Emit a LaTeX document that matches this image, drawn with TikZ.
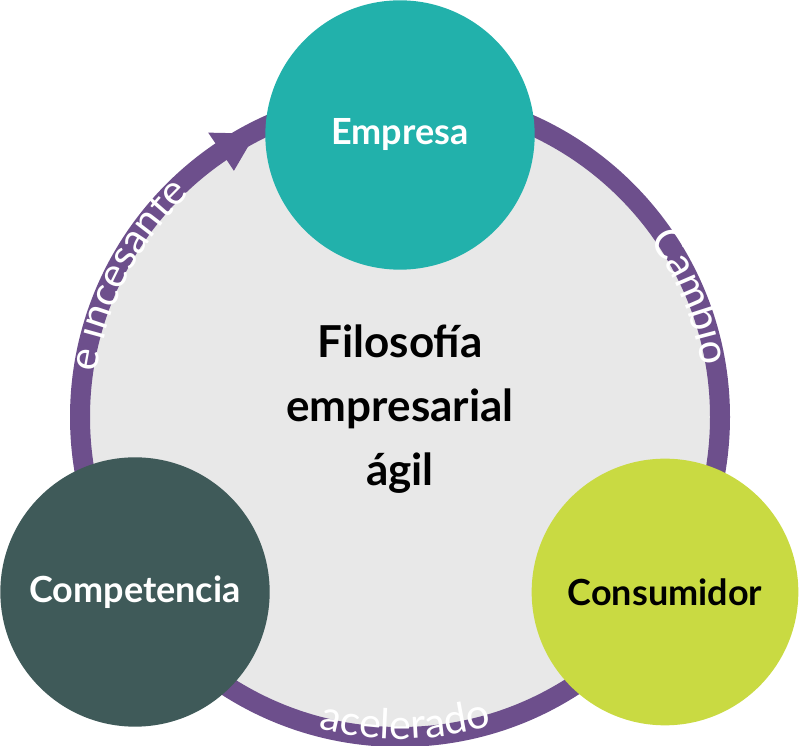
\documentclass[tikz,border=0pt]{standalone}
\usepackage{fontspec}
\setmainfont{Lato}
\usetikzlibrary{decorations.text,calc}
\definecolor{ring}{HTML}{6D4F8C}
\definecolor{bg}{HTML}{E8E8E8}
\definecolor{teal}{HTML}{22B1AB}
\definecolor{dk}{HTML}{3F5A59}
\definecolor{lime}{HTML}{C9DA42}
\begin{document}
\begin{tikzpicture}[x=0.75pt,y=0.75pt,
  bub/.style={circle,minimum size=202pt,inner sep=0,font=\fontsize{27}{30}\selectfont\bfseries},
  rt/.style={decorate,decoration={text along path,text align=center,text color=white,
     text={|\fontsize{31}{34}\selectfont|#1}}}]
\useasboundingbox (0,0) rectangle (800,746);
\coordinate (C) at (400,329);
\fill[bg] (C) circle[radius=312];
\draw[ring,line width=15pt] (C) circle[radius=320];
\fill[ring] ($(C)+(117:318)$) -- ($(C)+(124:297)$) -- ($(C)+(124:343)$) -- cycle;
\path[rt={Cambio}] ($(C)+(45:306)$) arc[start angle=45,end angle=0,radius=306];
\path[rt={e incesante}] ($(C)+(190:306)$) arc[start angle=190,end angle=115,radius=306];
\path[rt={acelerado}] ($(C)+(240:322)$) arc[start angle=240,end angle=302,radius=322];
\node[bub,fill=teal,text=white] (emp) at (400,611) {Empresa};
\node[bub,fill=dk,text=white] (comp) at (135,154) {Competencia};
\node[bub,fill=lime,minimum size=200pt,text=black] (cons) at (665,154) {Consumidor};
\node[align=center,font=\fontsize{33}{48}\selectfont\bfseries] (c) at (400,337) {Filosofía\\empresarial\\ágil};
\end{tikzpicture}
\end{document}
